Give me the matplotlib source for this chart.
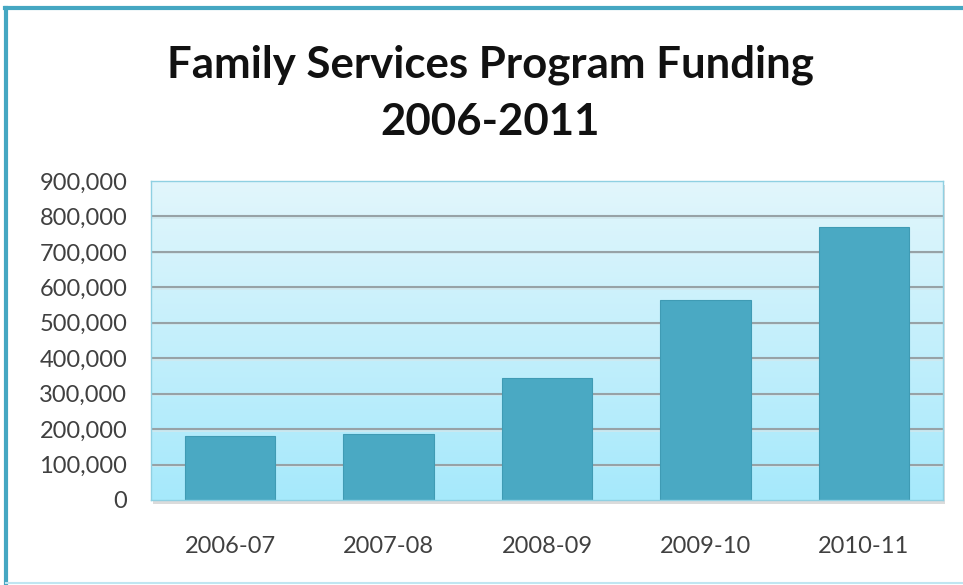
import matplotlib
matplotlib.use('Agg')
import matplotlib.pyplot as plt
import numpy as np
from matplotlib.colors import LinearSegmentedColormap
from matplotlib.patches import Rectangle
from matplotlib.lines import Line2D
from matplotlib.ticker import FuncFormatter

# --- data ---
years = ['2006-07', '2007-08', '2008-09', '2009-10', '2010-11']
funding = [181000, 186000, 345000, 565000, 771000]
y_ticks = list(range(0, 900001, 100000))

plt.rcParams['font.family'] = ['Lato', 'DejaVu Sans']

fig = plt.figure(figsize=(9.63, 5.85), dpi=100)
W, H = 963, 585
ax = fig.add_axes([151 / W, 1 - 500 / H, (943 - 151) / W, (500 - 181) / H])

# gradient background of plot area
bg = LinearSegmentedColormap.from_list('bg', ['#a6e9fb', '#e2f6fc'])
grad = np.linspace(0, 1, 256).reshape(-1, 1)
ax.imshow(grad, cmap=bg, origin='lower', aspect='auto',
          extent=[0, 1, 0, 1], transform=ax.transAxes, zorder=0)

# soft drop shadow under the plot area
fig.patches.append(Rectangle((153 / W, 1 - 504 / H), (943 - 151) / W, (500 - 181) / H,
                             transform=fig.transFigure, facecolor='#b8b8b8',
                             edgecolor='none', alpha=0.5, zorder=-1))

x = np.arange(len(years))
ax.set_xlim(-0.5, len(years) - 0.5)
ax.set_ylim(0, 900000)

# gridlines with a faint shadow
for v in y_ticks[1:-1]:
    ax.axhline(v - 4000, color='#d0e8ee', linewidth=1.2, zorder=1)
    ax.axhline(v, color='#97a2a6', linewidth=1.5, zorder=1)

ax.bar(x, funding, width=0.57, color='#4aa9c3', edgecolor='#3f9bb4',
       linewidth=0.8, zorder=2)

for s in ax.spines.values():
    s.set_color('#8fd0e2')
    s.set_linewidth(1.0)

ax.set_xticks(x)
ax.set_xticklabels(years)
ax.set_yticks(y_ticks)
ax.yaxis.set_major_formatter(FuncFormatter(lambda v, p: f'{int(v):,}'))
ax.tick_params(axis='both', length=0, labelsize=17, colors='#404040')
ax.tick_params(axis='x', pad=26)
ax.tick_params(axis='y', pad=17)

fig.text(490 / W, 1 - 65 / H, 'Family Services Program Funding',
         ha='center', va='center', fontsize=31.5, fontweight='bold', color='#111111')
fig.text(490 / W, 1 - 122 / H, '2006-2011',
         ha='center', va='center', fontsize=31.5, fontweight='bold', color='#111111')

# outer chart frame
fig.lines.append(Line2D([6 / W, 6 / W], [0, 1 - 8 / H], transform=fig.transFigure,
                        color='#45a7c2', linewidth=3))
fig.lines.append(Line2D([5 / W, 1], [1 - 8 / H, 1 - 8 / H], transform=fig.transFigure,
                        color='#45a7c2', linewidth=3))
fig.lines.append(Line2D([6 / W, 1], [1 - 583 / H, 1 - 583 / H], transform=fig.transFigure,
                        color='#bfe6f1', linewidth=1.5))

fig.savefig('out.png', dpi=100, facecolor='white')
